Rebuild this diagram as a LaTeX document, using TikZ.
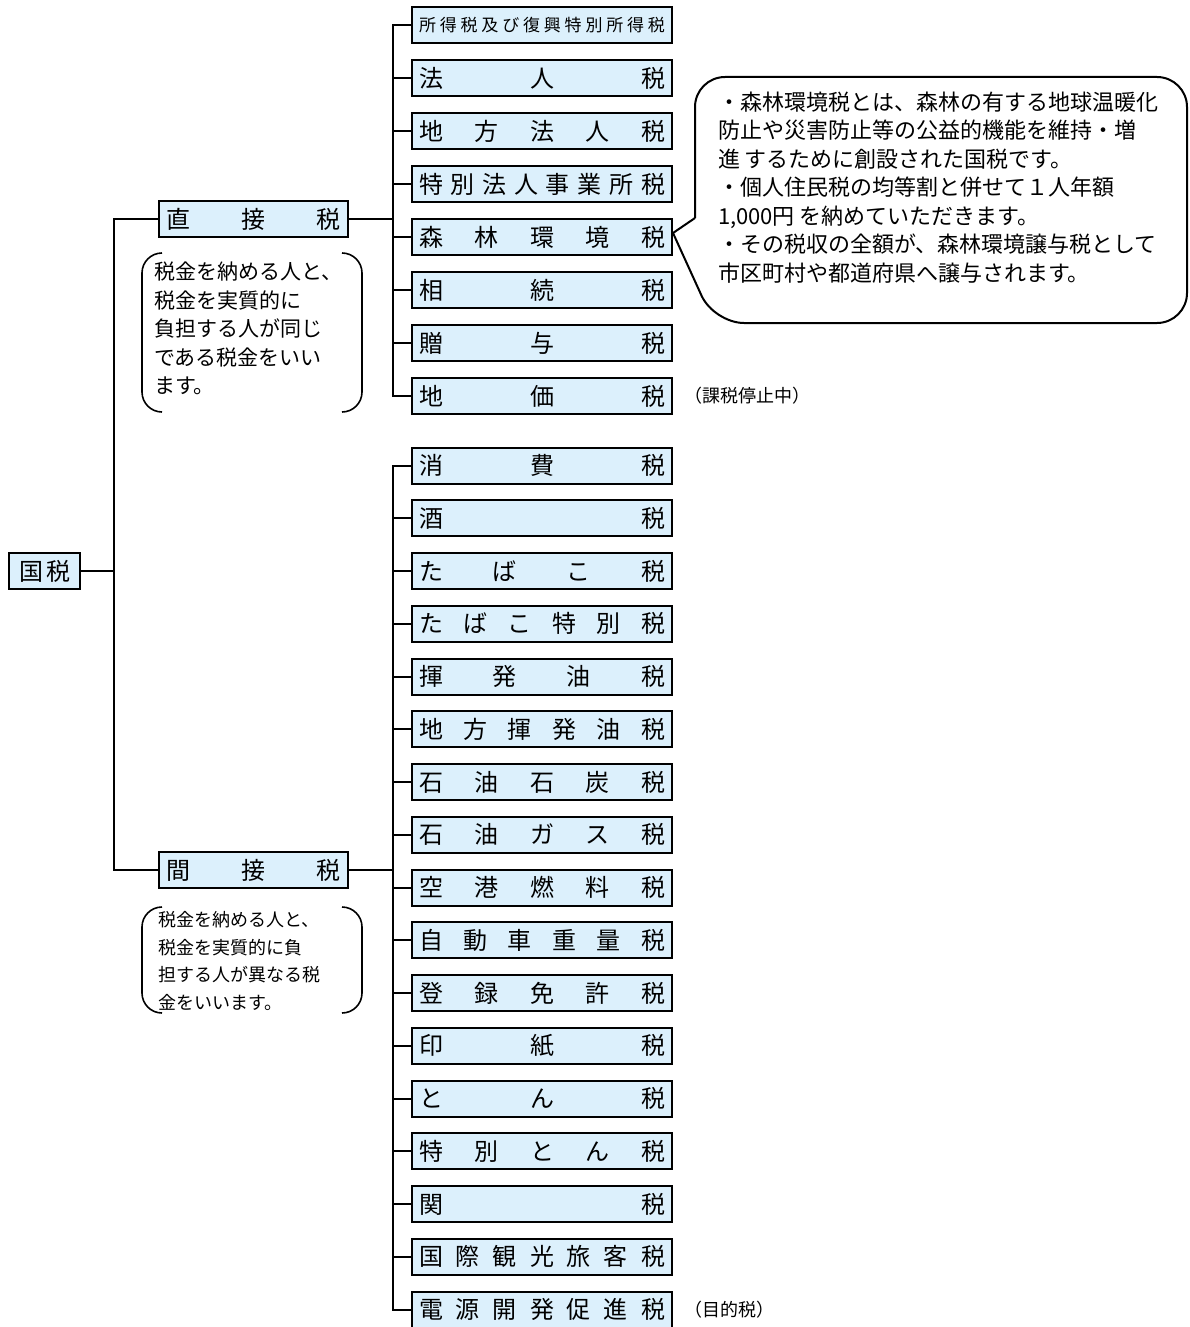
\documentclass[tikz,border=0pt]{standalone}
\usepackage{fontspec}
\setmainfont{Noto Sans CJK JP}
\usetikzlibrary{positioning}
\definecolor{boxblue}{RGB}{220,240,252}
\newdimen\spreadwd
\def\spreadA#1#2\endspread{#1\ifx\relax#2\relax\else\hfill\spreadA#2\endspread\fi}
\newcommand\spread[1]{\edef\spreadtmp{#1}\hbox to\spreadwd{\expandafter\spreadA\spreadtmp\endspread}}

\begin{document}
\begin{tikzpicture}[x=0.5pt,y=-0.5pt,line width=1pt,
		box/.style={draw,fill=boxblue,minimum height=18pt,inner xsep=3.5pt,inner ysep=0pt,font=\fontsize{12}{13}\selectfont},
		taxbox/.style={box,execute at begin node={\spreadwd=123pt}},
		classbox/.style={box,execute at begin node={\spreadwd=87.5pt}},
		aside/.style={inner sep=0pt,font=\fontsize{9}{10}\selectfont},
		note/.style={align=left,inner sep=0pt,anchor=west},
		bracket/.style={line width=0.8pt,rounded corners=10pt}]
	\useasboundingbox (0,0) rectangle (1189,1327);
	\node[box,minimum width=35.5pt] (kokuzei) at (44.5,571) {国\hspace{1.5pt}税};
	\node[classbox] (direct) at (253.5,219) {\spread{直接税}};
	\node[classbox] (indirect) at (253.5,870) {\spread{間接税}};
	\node[taxbox,font=\fontsize{8.5}{10}\selectfont] (d0) at (542,25) {\spread{所得税及び復興特別所得税}};
	\foreach \lab [count=\i] in {法人税,地方法人税,特別法人事業所税,森林環境税,相続税,贈与税,地価税}
		\node[taxbox] (d\i) at (542,25+53*\i) {\spread{\lab}};
	\foreach \lab [count=\j from 0] in {消費税,酒税,たばこ税,たばこ特別税,揮発油税,地方揮発油税,石油石炭税,石油ガス税,空港燃料税,自動車重量税,登録免許税,印紙税,とん税,特別とん税,関税,国際観光旅客税,電源開発促進税}
		\node[taxbox] (n\j) at (542,465.5+52.75*\j) {\spread{\lab}};

	\coordinate (mainbar) at (114,571);
	\coordinate (dbar) at (393,219);
	\coordinate (nbar) at (393,870);
	\draw (kokuzei) -- (mainbar);
	\draw (direct.west) -| (mainbar) |- (indirect.west);
	\draw (direct) -- (dbar);
	\draw (d0.west) -| (dbar) |- (d7.west);
	\foreach \i in {1,...,6}
		\draw (d\i.west) -- (d\i.west -| dbar);
	\draw (indirect) -- (nbar);
	\draw (n0.west) -| (nbar) |- (n16.west);
	\foreach \j in {1,...,15}
		\draw (n\j.west) -- (n\j.west -| nbar);

	\node[aside,right=5pt of d7] (teishi) {（課税停止中）};
	\node[aside,right=5pt of n16] (mokuteki) {（目的税）};

	\node[note,font=\fontsize{10.5}{14.25}\selectfont] (note1) at (153,328.5) {税金を納める人と、\\税金を実質的に\\負担する人が同じ\\である税金をいい\\ます。};
	\draw[bracket] (162,253) -- (142,253) -- (142,412) -- (162,412);
	\draw[bracket] (342,253) -- (362,253) -- (362,412) -- (342,412);
	\node[note,font=\fontsize{9}{13.7}\selectfont] (note2) at (157,961) {税金を納める人と、\\税金を実質的に負\\担する人が異なる税\\金をいいます。};
	\draw[bracket] (162,907) -- (142,907) -- (142,1013) -- (162,1013);
	\draw[bracket] (342,907) -- (362,907) -- (362,1013) -- (342,1013);

	\node[note,anchor=base west,font=\fontsize{11}{14.25}\selectfont] (forest) at (717,281) {・森林環境税とは、森林の有する地球温暖化\\防止や災害防止等の公益的機能を維持・増\\進 するために創設された国税です。\\・個人住民税の均等割と併せて１人年額\\1,000円 を納めていただきます。\\・その税収の全額が、森林環境譲与税として\\市区町村や都道府県へ譲与されます。};
	\coordinate (tip) at ([yshift=2pt]d4.east);
	\draw (tip) -- (695,218);
	\draw[rounded corners=15pt] (695,218) -- (695,77) -- (1187,77) -- (1187,323) -- (714,323) -- (tip);
\end{tikzpicture}
\end{document}
